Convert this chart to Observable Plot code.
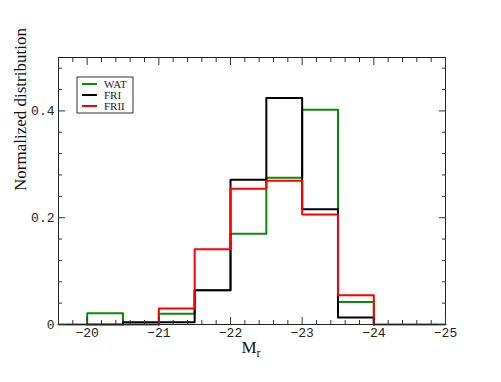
<!DOCTYPE html>
<html>
<head>
<meta charset="utf-8">
<script src="https://cdn.jsdelivr.net/npm/d3@7"></script>
<script src="https://cdn.jsdelivr.net/npm/@observablehq/plot@0.6"></script>
<style>
  body { margin: 0; background: #fff; }
  #chart svg { display: block; }
</style>
</head>
<body>
<div id="chart"></div>
<script>
// Bin edges (absolute magnitude M_r), 0.5 mag bins
const binEdges = [-20, -20.5, -21, -21.5, -22, -22.5, -23, -23.5, -24];
// Normalized distribution per bin (8 bins)
const watValues  = [0.021, 0.000, 0.020, 0.064, 0.170, 0.275, 0.402, 0.042];
const friValues  = [0.000, 0.004, 0.004, 0.064, 0.271, 0.424, 0.216, 0.013];
const friiValues = [0.000, 0.000, 0.030, 0.141, 0.254, 0.269, 0.206, 0.055];

const seriesNames = ["WAT", "FRI", "FRII"];
const seriesColors = ["#0a8c0a", "#000000", "#ff0000"];

const xDomain = [-19.6, -25];
const yDomain = [0, 0.5];
const xMajorTicks = [-20, -21, -22, -23, -24, -25];
const xMinorTicks = d3.range(-19.6, -25.01, -0.2).map(v => +v.toFixed(1)).filter(v => !xMajorTicks.includes(v));
const yMajorTicks = [0, 0.2, 0.4];
const yMinorTicks = [0.04, 0.08, 0.12, 0.16, 0.24, 0.28, 0.32, 0.36, 0.44, 0.48];
const yTickLabels = ["0", "0.2", "0.4"];

// step points (step-after)
function stepPoints(name, values, startX, endX) {
  const pts = [{series: name, x: startX, y: 0}];
  values.forEach((v, i) => pts.push({series: name, x: binEdges[i], y: v}));
  pts.push({series: name, x: binEdges[binEdges.length - 1], y: 0});
  if (endX !== undefined) pts.push({series: name, x: endX, y: 0});
  return pts;
}

const watSteps = stepPoints("WAT", watValues, -19.6, -25);
const friSteps = stepPoints("FRI", friValues, -20);
const friiSteps = [{series: "FRII", x: -21, y: 0}].concat(
  binEdges.slice(2, 8).map((e, i) => ({series: "FRII", x: e, y: friiValues[i + 2]})),
  [{series: "FRII", x: -24, y: 0}]
);

const mono = "'Liberation Mono', 'DejaVu Sans Mono', monospace";
const serif = "'Liberation Serif', 'DejaVu Serif', serif";

const plot = Plot.plot({
  width: 501,
  height: 382,
  marginLeft: 58,
  marginRight: 56,
  marginTop: 57,
  marginBottom: 58,
  style: {fontFamily: mono, fontSize: "13px", color: "#000", background: "#fff"},
  x: {domain: xDomain},
  y: {domain: yDomain},
  marks: [
    Plot.line(watSteps, {x: "x", y: "y", curve: "step-after", stroke: seriesColors[0], strokeWidth: 2}),
    Plot.line(friSteps, {x: "x", y: "y", curve: "step-after", stroke: seriesColors[1], strokeWidth: 2}),
    Plot.line(friiSteps, {x: "x", y: "y", curve: "step-after", stroke: seriesColors[2], strokeWidth: 2}),
    Plot.frame({stroke: "#222", strokeWidth: 1}),
    // inward ticks on all four sides
    Plot.axisX(xMajorTicks, {anchor: "bottom", tickSize: -7, text: null, label: null, stroke: "#333"}),
    Plot.axisX(xMinorTicks, {anchor: "bottom", tickSize: -4, text: null, label: null, stroke: "#333"}),
    Plot.axisX(xMajorTicks, {anchor: "top", tickSize: -7, text: null, label: null, stroke: "#333"}),
    Plot.axisX(xMinorTicks, {anchor: "top", tickSize: -4, text: null, label: null, stroke: "#333"}),
    Plot.axisY(yMajorTicks, {anchor: "left", tickSize: -7, text: null, label: null, stroke: "#333"}),
    Plot.axisY(yMinorTicks, {anchor: "left", tickSize: -4, text: null, label: null, stroke: "#333"}),
    Plot.axisY(yMajorTicks, {anchor: "right", tickSize: -7, text: null, label: null, stroke: "#333"}),
    Plot.axisY(yMinorTicks, {anchor: "right", tickSize: -4, text: null, label: null, stroke: "#333"}),
    // tick labels
    Plot.axisX(xMajorTicks, {anchor: "bottom", tickSize: 0, tickPadding: 3, label: null,
      tickFormat: d => "\u2212" + Math.abs(d), fill: "#222"}),
    Plot.axisY(yMajorTicks, {anchor: "left", tickSize: 0, tickPadding: 4, label: null,
      tickFormat: (d, i) => yTickLabels[i], fill: "#222"}),
    // y axis title
    Plot.text(["Normalized distribution"], {frameAnchor: "left", rotate: -90, dx: -38,
      fontFamily: serif, fontSize: 17, fill: "#111"})
  ]
});

document.getElementById("chart").appendChild(plot);

const svg = d3.select(plot);
// x axis title M_r
const xt = svg.append("text")
  .attr("x", 251)
  .attr("y", 353)
  .attr("text-anchor", "middle")
  .attr("font-family", serif)
  .attr("font-size", 17)
  .attr("fill", "#111");
xt.append("tspan").text("M");
xt.append("tspan").attr("font-size", 12).attr("dy", 4).text("r");

// legend
const lg = svg.append("g").attr("transform", "translate(77,77)");
lg.append("rect").attr("width", 56).attr("height", 36)
  .attr("fill", "#fff").attr("stroke", "#333").attr("stroke-width", 1);
seriesNames.forEach((name, i) => {
  const yy = 7 + i * 11;
  lg.append("line").attr("x1", 5).attr("x2", 20).attr("y1", yy).attr("y2", yy)
    .attr("stroke", seriesColors[i]).attr("stroke-width", 2);
  lg.append("text").attr("x", 27).attr("y", yy + 4).attr("text-anchor", "start")
    .attr("font-family", serif).attr("font-size", 11).attr("fill", "#222").text(name);
});
</script>
</body>
</html>
